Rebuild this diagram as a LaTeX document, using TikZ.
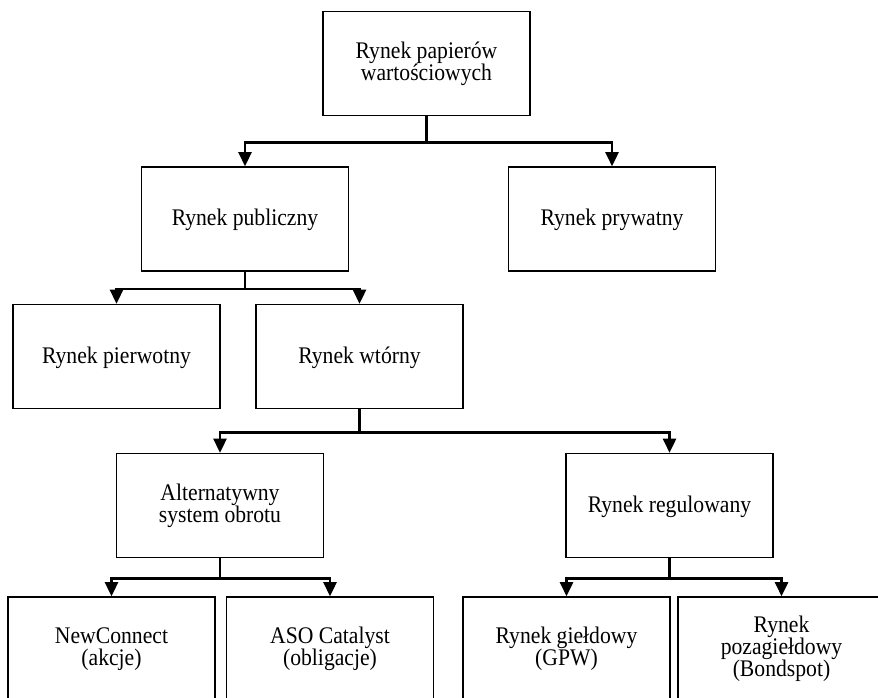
\documentclass[tikz,border=0pt]{standalone}
\usepackage{fontspec}
\setmainfont[FakeStretch=0.91]{Liberation Serif}
\usetikzlibrary{arrows.meta, positioning}

\begin{document}
\begin{tikzpicture}[
        x=1pt, y=-1pt,
        box/.style={rectangle, draw, line width=1.6pt, minimum width=207pt, minimum height=104pt, inner sep=0pt, align=center,
            font=\fontsize{23.8}{22}\selectfont,
            execute at begin node={\rule[-5pt]{0pt}{24pt}}, execute at end node={\rule[-5pt]{0pt}{24pt}}},
        arrow/.style={-{Triangle[length=14pt, width=13pt]}, line width=2.6pt}
    ]
        \useasboundingbox (0,0) rectangle (878,697);
        \clip (0,0) rectangle (878,697);

        % Level 1: root
        \node[box] (rpw) at (426.5,63.5) {Rynek papierów\\wartościowych};

        % Level 2
        \node[box] (pub) at (245,219) {Rynek publiczny};
        \node[box] (pryw) at (612,219) {Rynek prywatny};

        % Level 3
        \node[box] (pierw) at (116.5,356.5) {Rynek pierwotny};
        \node[box] (wtor) at (359.5,356.5) {Rynek wtórny};

        % Level 4
        \node[box] (alt) at (220,505.5) {Alternatywny\\system obrotu};
        \node[box] (reg) at (669.5,505.5) {Rynek regulowany};

        % Level 5 (cut by the page edge)
        \node[box] (nc) at (111.5,649) {NewConnect\\(akcje)};
        \node[box] (cat) at (330,649) {ASO Catalyst\\(obligacje)};
        \node[box] (gield) at (566.5,649) {Rynek giełdowy\\(GPW)};
        \node[box] (pozag) at (781.5,649) {Rynek\\pozagiełdowy\\(Bondspot)};

        % Arrows - root
        \draw[arrow] (rpw.south) -- ++(0,26) -| (pub.north);
        \draw[arrow] (rpw.south) -- ++(0,26) -| (pryw.north);

        % Arrows - public market
        \draw[arrow] (pub.south) -- ++(0,17) -| (pierw.north);
        \draw[arrow] (pub.south) -- ++(0,17) -| (wtor.north);

        % Arrows - secondary market
        \draw[arrow] (wtor.south) -- ++(0,23) -| (alt.north);
        \draw[arrow] (wtor.south) -- ++(0,23) -| (reg.north);

        % Arrows - ASO and regulated market
        \draw[arrow] (alt.south) -- ++(0,20) -| (nc.north);
        \draw[arrow] (alt.south) -- ++(0,20) -| (cat.north);
        \draw[arrow] (reg.south) -- ++(0,20) -| (gield.north);
        \draw[arrow] (reg.south) -- ++(0,20) -| (pozag.north);
    \end{tikzpicture}
\end{document}
